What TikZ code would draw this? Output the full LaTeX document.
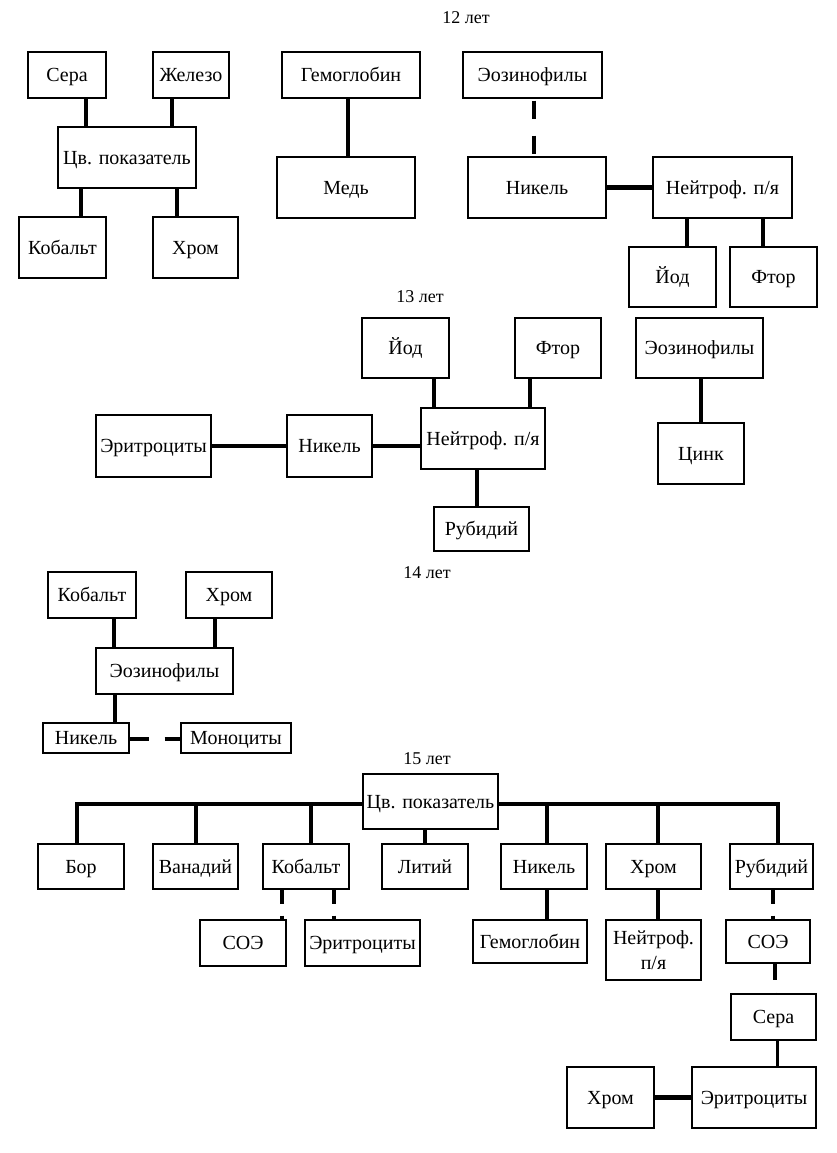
\documentclass[tikz,border=0pt]{standalone}
\usepackage{fontspec}
\setmainfont{Liberation Serif}
\begin{document}
\begin{tikzpicture}[x=1pt,y=-1pt,
  bx/.style={draw, line width=1.4pt, inner sep=0pt, font=\fontsize{20}{25}\selectfont, align=center, text height=15.5pt, text depth=2.5pt},
  sz/.style 2 args={minimum width=#1pt, minimum height=#2pt},
  lbl/.style={inner sep=0pt, font=\fontsize{18}{22}\selectfont},
  con/.style={line width=4.8pt},
  thin con/.style={line width=3pt}]
\useasboundingbox[fill=white] (0,0) rectangle (836,1153);

% ---------------- 12 лет ----------------
\node[lbl] (t12) at (466,18) {12 лет};
\node[bx, sz={78}{46}] (sera1) at (67,75) {Сера};
\node[bx, sz={76}{46}] (zhel1) at (191,75) {Железо};
\node[bx, sz={138}{61}] (cv1) at (127,157.5) {Цв. показатель};
\node[bx, sz={87}{61}] (kob1) at (62.5,247.5) {Кобальт};
\node[bx, sz={85}{61}] (hrom1) at (195.5,247.5) {Хром};
\node[bx, sz={138}{46}] (gem1) at (351,75) {Гемоглобин};
\node[bx, sz={138}{61}] (med1) at (346,187.5) {Медь};
\node[bx, sz={139}{46}] (eoz1) at (532.5,75) {Эозинофилы};
\node[bx, sz={138}{61}] (nik1) at (537,187.5) {Никель};
\node[bx, sz={139}{61}] (neu1) at (722.5,187.5) {Нейтроф. п/я};
\node[bx, sz={87}{60}] (iod1) at (672.5,277) {Йод};
\node[bx, sz={87}{60}] (ftor1) at (773.5,277) {Фтор};

\draw[con] ([xshift=19pt]sera1.south) -- ([xshift=19pt]sera1.south |- cv1.north);
\draw[con] ([xshift=-19pt]zhel1.south) -- ([xshift=-19pt]zhel1.south |- cv1.north);
\draw[con] ([xshift=-46pt]cv1.south) -- ([xshift=-46pt]cv1.south |- kob1.north);
\draw[con] ([xshift=50pt]cv1.south) -- ([xshift=50pt]cv1.south |- hrom1.north);
\draw[con] ([xshift=-3pt]gem1.south) -- ([xshift=-3pt]gem1.south |- med1.north);
\draw[con, dash pattern=on 18pt off 17pt, dash phase=-2pt] ([xshift=1.5pt]eoz1.south) -- ([xshift=1.5pt]eoz1.south |- nik1.north);
\draw[con] (nik1.east) -- (neu1.west);
\draw[con] ([xshift=-35.5pt]neu1.south) -- ([xshift=-35.5pt]neu1.south |- iod1.north);
\draw[con] ([xshift=40.5pt]neu1.south) -- ([xshift=40.5pt]neu1.south |- ftor1.north);

% ---------------- 13 лет ----------------
\node[lbl] (t13) at (420,297) {13 лет};
\node[bx, sz={87}{60}] (iod2) at (405.5,348) {Йод};
\node[bx, sz={86}{60}] (ftor2) at (558,348) {Фтор};
\node[bx, sz={127}{60}] (eoz2) at (699.5,348) {Эозинофилы};
\node[bx, sz={115}{62}] (eri2) at (153.5,446) {Эритроциты};
\node[bx, sz={85}{62}] (nik2) at (329.5,446) {Никель};
\node[bx, sz={124}{61}] (neu2) at (483,438.5) {Нейтроф. п/я};
\node[bx, sz={95}{44}] (rub2) at (481.5,529) {Рубидий};
\node[bx, sz={86}{61}] (zink2) at (701,453.5) {Цинк};

\draw[con] (eri2.east) -- (nik2.west);
\draw[con] (nik2.east) -- (nik2.east -| neu2.west);
\draw[con] ([xshift=28.5pt]iod2.south) -- ([xshift=28.5pt]iod2.south |- neu2.north);
\draw[con] ([xshift=-28pt]ftor2.south) -- ([xshift=-28pt]ftor2.south |- neu2.north);
\draw[con] ([xshift=-6pt]neu2.south) -- ([xshift=-6pt]neu2.south |- rub2.north);
\draw[con] ([xshift=1.5pt]eoz2.south) -- ([xshift=1.5pt]eoz2.south |- zink2.north);

% ---------------- 14 лет ----------------
\node[lbl] (t14) at (427,573) {14 лет};
\node[bx, sz={88}{46}] (kob3) at (92,595) {Кобальт};
\node[bx, sz={86}{46}] (hrom3) at (229,595) {Хром};
\node[bx, sz={137}{46}] (eoz3) at (164.5,671) {Эозинофилы};
\node[bx, sz={86}{30}] (nik3) at (86,738) {Никель};
\node[bx, sz={110}{30}] (mon3) at (236,738) {Моноциты};

\draw[con] ([xshift=22pt]kob3.south) -- ([xshift=22pt]kob3.south |- eoz3.north);
\draw[con] ([xshift=-14pt]hrom3.south) -- ([xshift=-14pt]hrom3.south |- eoz3.north);
\draw[con] ([xshift=-49.5pt]eoz3.south) -- ([xshift=-49.5pt]eoz3.south |- nik3.north);
\draw[con, dash pattern=on 19pt off 16pt] ([yshift=-1pt]nik3.east) -- ([yshift=-1pt]nik3.east -| mon3.west);

% ---------------- 15 лет ----------------
\node[lbl] (t15) at (427,759) {15 лет};
\node[bx, sz={135}{55}] (cv4) at (430.5,801.5) {Цв. показатель};
\node[bx, sz={86}{45}] (bor4) at (81,866.5) {Бор};
\node[bx, sz={85}{45}] (van4) at (195.5,866.5) {Ванадий};
\node[bx, sz={86}{45}] (kob4) at (306,866.5) {Кобальт};
\node[bx, sz={86}{45}] (lit4) at (425,866.5) {Литий};
\node[bx, sz={86}{45}] (nik4) at (544,866.5) {Никель};
\node[bx, sz={95}{45}] (hrom4) at (653.5,866.5) {Хром};
\node[bx, sz={83}{45}] (rub4) at (771.5,866.5) {Рубидий};
\node[bx, sz={86}{46}] (soe4a) at (243,943) {СОЭ};
\node[bx, sz={115}{46}] (eri4a) at (362.5,943) {Эритроциты};
\node[bx, sz={114}{43}] (gem4) at (530,941.5) {Гемоглобин};
\node[bx, sz={95}{60}, text height=, text depth=] (neu4) at (653.5,950) {Нейтроф.\\п/я};
\node[bx, sz={84}{43}] (soe4b) at (768,941.5) {СОЭ};
\node[bx, sz={85}{46}] (sera4) at (773.5,1017) {Сера};
\node[bx, sz={124}{61}] (eri4b) at (754,1097.5) {Эритроциты};
\node[bx, sz={87}{61}] (hrom4b) at (610.5,1097.5) {Хром};
\coordinate (bus) at (0,804);

\draw[con] ([yshift=-2.5pt]cv4.west) -| ([xshift=-4pt]bor4.north);
\draw[con] ([yshift=-2.5pt]cv4.east) -| ([xshift=6.5pt]rub4.north);
\draw[con] ([xshift=0.5pt]van4.north) -- ([xshift=0.5pt]van4.north |- bus);
\draw[con] ([xshift=5pt]kob4.north) -- ([xshift=5pt]kob4.north |- bus);
\draw[con] ([xshift=3pt]nik4.north) -- ([xshift=3pt]nik4.north |- bus);
\draw[con] ([xshift=4.5pt]hrom4.north) -- ([xshift=4.5pt]hrom4.north |- bus);
\draw[con] (lit4.north |- cv4.south) -- (lit4.north);
\draw[con] ([xshift=3pt]nik4.south) -- ([xshift=3pt]nik4.south |- gem4.north);
\draw[con] ([xshift=4.5pt]hrom4.south) -- ([xshift=4.5pt]hrom4.south |- neu4.north);
\draw[con, dash pattern=on 14pt off 12pt] ([xshift=-24pt]kob4.south) -- ([xshift=-24pt]kob4.south |- soe4a.north);
\draw[con, dash pattern=on 14pt off 12pt] ([xshift=28pt]kob4.south) -- ([xshift=28pt]kob4.south |- eri4a.north);
\draw[con, dash pattern=on 14pt off 12pt] ([xshift=1.5pt]rub4.south) -- ([xshift=1.5pt]rub4.south |- soe4b.north);
\draw[con, dash pattern=on 16pt off 13pt] ([xshift=7pt]soe4b.south) -- ([xshift=7pt]soe4b.south |- sera4.north);
\draw[thin con] ([xshift=3.5pt]sera4.south) -- ([xshift=3.5pt]sera4.south |- eri4b.north);
\draw[con] (hrom4b.east) -- (eri4b.west);
\end{tikzpicture}
\end{document}
